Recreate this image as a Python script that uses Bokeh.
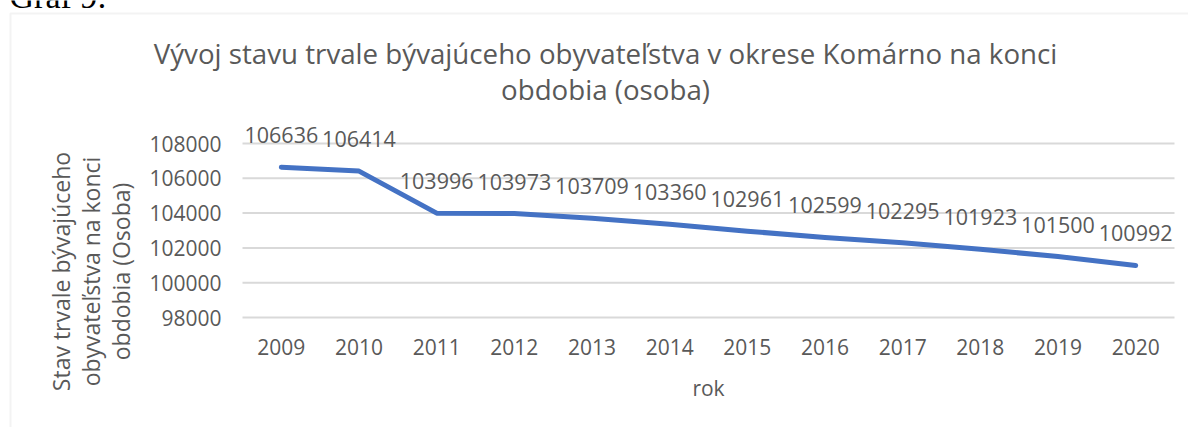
import math
from bokeh.plotting import figure
from bokeh.models import (Range1d, FixedTicker, Label, ColumnDataSource, BoxAnnotation,
                          BasicTickFormatter, LinearAxis)
from bokeh.core.properties import value
from bokeh.embed import file_html
from bokeh.resources import INLINE

# ---- data ----
years = ["2009", "2010", "2011", "2012", "2013", "2014", "2015", "2016",
         "2017", "2018", "2019", "2020"]
population = [106636, 106414, 103996, 103973, 103709, 103360, 102961,
              102599, 102295, 101923, 101500, 100992]
y_ticks = [98000, 100000, 102000, 104000, 106000, 108000]
title_lines = ["Vývoj stavu trvale bývajúceho obyvateľstva v okrese Komárno na konci",
               "obdobia (osoba)"]
y_title_lines = ["Stav trvale bývajúceho", "obyvateľstva na konci", "obdobia (Osoba)"]
x_title = "rok"
caption = "Graf 9:"

# ---- style / layout (pixels) ----
FONT = "Open Sans"
GRAY = "#595959"
GRID = "#D9D9D9"
BLUE = "#4472C4"
W, H = 1188, 427
PLOT_LEFT, PLOT_RIGHT = 242, 1174      # plot-area edges
Y_TOP_PX, Y_BOT_PX = 143, 317          # pixel rows of the top / bottom gridline
BASE_SHIFT = 0.34                      # renderer's baseline offset (fraction of font size)

n = len(years)
idx = list(range(n))
cat_w = (PLOT_RIGHT - PLOT_LEFT) / n
x_start = -0.5 - PLOT_LEFT / cat_w
x_end = n - 0.5 + (W - PLOT_RIGHT) / cat_w
ppu = (Y_BOT_PX - Y_TOP_PX) / (max(y_ticks) - min(y_ticks))
y_end = max(y_ticks) + Y_TOP_PX / ppu
y_start = min(y_ticks) - (H - Y_BOT_PX) / ppu

src = ColumnDataSource(dict(x=idx, pop=population,
                            label=[str(v) for v in population]))
grid_src = ColumnDataSource(dict(x0=[-0.5] * len(y_ticks), x1=[n - 0.5] * len(y_ticks),
                                 y=y_ticks))

p = figure(width=W, height=H, output_backend="svg", toolbar_location=None,
           x_range=Range1d(x_start, x_end), y_range=Range1d(y_start, y_end),
           x_axis_location=None, y_axis_location=None,
           min_border=0, min_border_left=0, min_border_right=0,
           min_border_top=0, min_border_bottom=0)
p.outline_line_color = None
p.background_fill_color = "white"
p.border_fill_color = "white"
p.xgrid.visible = False
p.ygrid.visible = False

# axes placed at the plot-area edges
xaxis = LinearAxis(fixed_location=min(y_ticks), ticker=FixedTicker(ticks=idx),
                   major_label_overrides={i: y for i, y in enumerate(years)})
yaxis = LinearAxis(fixed_location=-0.5, ticker=FixedTicker(ticks=y_ticks),
                   formatter=BasicTickFormatter(use_scientific=False))
for ax in (xaxis, yaxis):
    ax.axis_line_color = None
    ax.major_tick_line_color = None
    ax.minor_tick_line_color = None
    ax.major_tick_out = 0
    ax.major_tick_in = 0
    ax.major_label_text_font = FONT
    ax.major_label_text_font_size = "21px"
    ax.major_label_text_color = GRAY
xaxis.major_label_standoff = 21
yaxis.major_label_standoff = 21
p.add_layout(xaxis, "below")
p.add_layout(yaxis, "left")

# horizontal gridlines over the plot area
p.segment(x0="x0", x1="x1", y0="y", y1="y", source=grid_src,
          line_color=GRID, line_width=2)

# series
p.line("x", "pop", source=src, line_color=BLUE, line_width=5,
       line_cap="round", line_join="round")
p.text("x", "pop", text="label", source=src, text_align="center",
       text_baseline="alphabetic", y_offset=-32, text_font=value(FONT),
       text_font_size="21.5px", text_color=GRAY)

# chart border (outer box)
p.add_layout(BoxAnnotation(left=10, right=3000, top=13, bottom=3000,
                           left_units="canvas", right_units="canvas",
                           top_units="canvas", bottom_units="canvas",
                           fill_color=None, fill_alpha=0,
                           line_color="#D6D6D6", line_width=2))

def label(x, y, text, size, color=GRAY, align="center", angle=0.0, font=FONT):
    """Place text so that its baseline passes through (x, y) on the canvas."""
    shift = BASE_SHIFT * size
    if angle:
        x = x - shift
    else:
        y = y - shift
    p.add_layout(Label(x=x, y=y, x_units="canvas", y_units="canvas", text=text,
                       text_font=font, text_font_size=f"{size}px", text_color=color,
                       text_align=align, text_baseline="alphabetic", angle=angle))

# title
for i, t in enumerate(title_lines):
    label(605, 62 + 36 * i, t, 27.7)

# y axis title (rotated)
for i, t in enumerate(y_title_lines):
    label(68 + 30 * i, 271, t, 23, angle=math.pi / 2)

# x axis title
label((PLOT_LEFT + PLOT_RIGHT) / 2, 395, x_title, 21)

# caption above the chart (cut off at the top in the reference)
label(9, 8, caption, 34, color="black", align="left", font="Liberation Serif")

open("out.html", "w").write(file_html(p, INLINE))
